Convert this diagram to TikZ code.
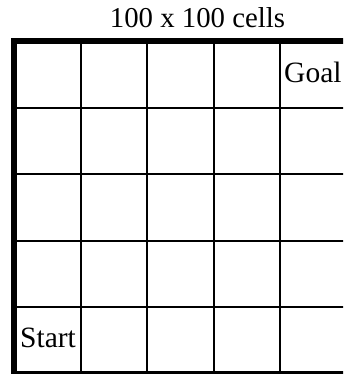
\documentclass[tikz,border=0pt]{standalone}
\usepackage{fontspec}
\setmainfont{Liberation Serif}
\usetikzlibrary{positioning}
\tikzset{gridline/.style={draw=black,line width=2pt},
  frame/.style={draw=black,line width=6pt},
  lbl/.style={inner sep=0pt,anchor=base west,font=\fontsize{29.5}{32}\selectfont}}

\begin{document}
\begin{tikzpicture}[x=1pt,y=1pt]
\useasboundingbox (0,0) rectangle (343,374);
\clip (0,0) rectangle (343,374);
% cells
\foreach \i in {1,...,4} {
  \draw[gridline] (14+\i*66.6,0) -- (14+\i*66.6,333);
  \draw[gridline] (14,\i*66.6) -- (347,\i*66.6);
}
\draw[frame] (14,0) rectangle (347,333);
\node[inner sep=0pt,anchor=base,font=\fontsize{28.8}{32}\selectfont] (title) at (197.5,346) {100 x 100 cells};
\node[lbl] (goal) at (284,291) {Goal};
\node[lbl] (start) at (20,26) {Start};
\end{tikzpicture}
\end{document}
